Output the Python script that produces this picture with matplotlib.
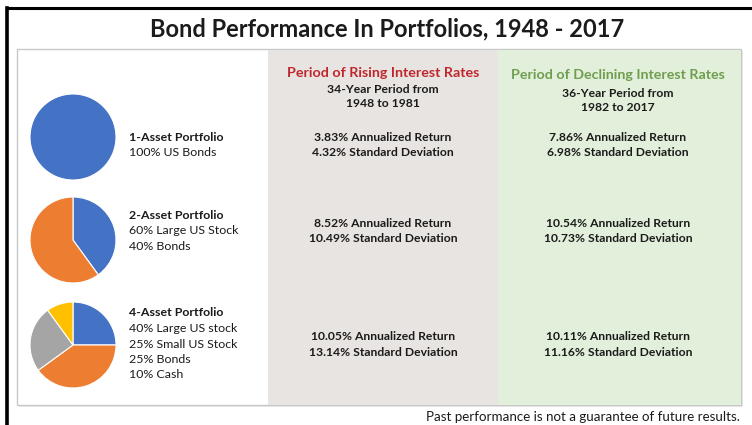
import matplotlib
matplotlib.use("Agg")
import matplotlib.pyplot as plt
from matplotlib.patches import Rectangle

W, H = 752, 425
FONT = ["Lato", "DejaVu Sans"]
plt.rcParams["font.family"] = FONT

title = "Bond Performance In Portfolios, 1948 - 2017"
footer = "Past performance is not a guarantee of future results."

portfolio_names = ["1-Asset Portfolio", "2-Asset Portfolio", "4-Asset Portfolio"]
portfolio_desc = [
    ["100% US Bonds"],
    ["60% Large US Stock", "40% Bonds"],
    ["40% Large US stock", "25% Small US Stock", "25% Bonds", "10% Cash"],
]
# pie slices (clockwise from 12 o'clock): Bonds, Large stock, Small stock, Cash
pie_values = [
    [100],
    [40, 60],
    [25, 40, 25, 10],
]
pie_colors = ["#4472C4", "#ED7D31", "#A5A5A5", "#FFC000"]

period_titles = ["Period of Rising Interest Rates", "Period of Declining Interest Rates"]
period_sub = [["34-Year Period from", "1948 to 1981"], ["36-Year Period from", "1982 to 2017"]]
ann_return = [[3.83, 8.52, 10.05], [7.86, 10.54, 10.11]]
std_dev = [[4.32, 10.49, 13.14], [6.98, 10.73, 11.16]]

fig = plt.figure(figsize=(W / 100, H / 100), dpi=100)
ax = fig.add_axes([0, 0, 1, 1])


def Y(py):
    return H - py


TXT = "#1b1b1b"
FS = 8.7

# outer frame lines
ax.plot([6.5, 6.5], [Y(8), Y(425)], color="black", lw=2.6, solid_capstyle="projecting")
ax.plot([6.5, 752], [Y(8), Y(8)], color="black", lw=2.2, solid_capstyle="projecting")

# panel
px0, px1, py0, py1 = 17, 741, 49, 405
ax.add_patch(Rectangle((px0 + 1.5, Y(py1) - 1.5), px1 - px0, py1 - py0, facecolor="#ececec",
                       edgecolor="none", zorder=1))
ax.add_patch(Rectangle((px0, Y(py1)), px1 - px0, py1 - py0, facecolor="white",
                       edgecolor="#c8c8c8", lw=1.0, zorder=2))
col_x = [268, 498, 741]
col_fc = ["#E8E4E1", "#E2EFDA"]
for i in range(2):
    ax.add_patch(Rectangle((col_x[i], Y(py1) + 0.5), col_x[i + 1] - col_x[i] - 0.5, py1 - py0 - 1,
                           facecolor=col_fc[i], edgecolor="none", zorder=3))

ax.text(387, Y(29), title, ha="center", va="center", fontsize=17, fontweight="bold", color=TXT)
ax.text(740, Y(417), footer, ha="right", va="center", fontsize=9.6, color=TXT)

# pies
pie_cy = [137, 240, 345]
for vals, cy in zip(pie_values, pie_cy):
    ax.pie(vals, colors=pie_colors[:len(vals)], center=(73, Y(cy)), radius=43, startangle=90,
           counterclock=False, frame=True,
           wedgeprops=dict(edgecolor="white", linewidth=0.8, zorder=5))

# portfolio labels
lab_y0 = [137, 215, 313]
for name, desc, y0 in zip(portfolio_names, portfolio_desc, lab_y0):
    ax.text(129, Y(y0), name, ha="left", va="center", fontsize=8.9, fontweight="bold", color=TXT, zorder=6)
    for k, d in enumerate(desc):
        ax.text(129, Y(y0 + 15.5 * (k + 1)), d, ha="left", va="center", fontsize=8.9, color=TXT, zorder=6)

# period columns
col_cx = [383, 618]
head_colors = ["#C0262D", "#6E9E4E"]
head_y = [73, 75]
sub_y = [[89, 103], [93, 107]]
row_y = [137, 223, 337]
for i in range(2):
    ax.text(col_cx[i], Y(head_y[i]), period_titles[i], ha="center", va="center", fontsize=10.3,
            fontweight="bold", color=head_colors[i], zorder=6)
    for s, sy in zip(period_sub[i], sub_y[i]):
        ax.text(col_cx[i], Y(sy), s, ha="center", va="center", fontsize=FS, fontweight="bold",
                color=TXT, zorder=6)
    for r, sd, ry in zip(ann_return[i], std_dev[i], row_y):
        ax.text(col_cx[i], Y(ry), f"{r:.2f}% Annualized Return", ha="center", va="center",
                fontsize=FS, fontweight="bold", color=TXT, zorder=6)
        ax.text(col_cx[i], Y(ry + 15), f"{sd:.2f}% Standard Deviation", ha="center", va="center",
                fontsize=FS, fontweight="bold", color=TXT, zorder=6)

ax.set_xlim(0, W)
ax.set_ylim(0, H)
ax.set_aspect("auto")
ax.axis("off")
fig.savefig("out.png", dpi=100)
